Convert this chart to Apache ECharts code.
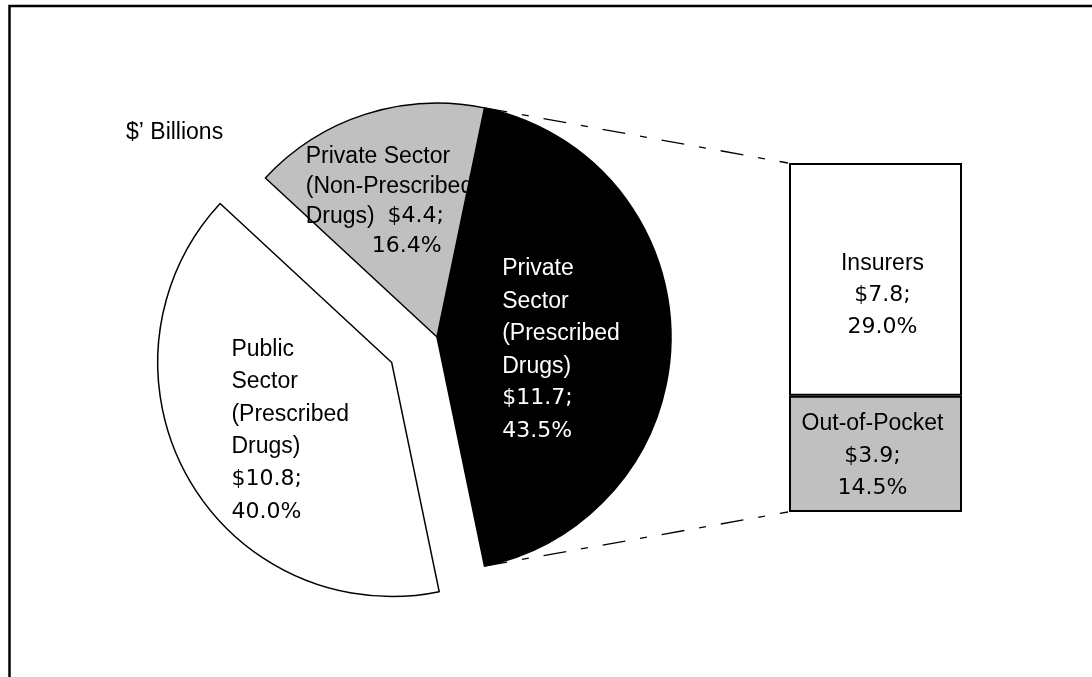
<!DOCTYPE html>
<html>
<head>
<meta charset="utf-8">
<script src="https://cdn.jsdelivr.net/npm/echarts@6/dist/echarts.min.js"></script>
<style>
  html, body { margin: 0; padding: 0; background: #fff; }
  #main { width: 1092px; height: 677px; }
</style>
</head>
<body>
<div id="main"></div>
<script>
// pie: the three sectors, clockwise starting with the split-off one
const pieNameLines = [
  ['Private', 'Sector', '(Prescribed', 'Drugs)'],
  ['Public', 'Sector', '(Prescribed', 'Drugs)'],
  ['Private Sector', '(Non-Prescribed', 'Drugs)']
];
const pieValues = [11.7, 10.8, 4.4];
const piePercents = ['43.5%', '40.0%', '16.4%'];
const pieColors = ['#000000', '#ffffff', '#c0c0c0'];

// bar: breakdown of the private prescribed slice (bottom to top)
const barNames = ['Out-of-Pocket', 'Insurers'];
const barValues = [3.9, 7.8];
const barPercents = ['14.5%', '29.0%'];
const barColors = ['#c0c0c0', '#ffffff'];

const unitLabel = '$\u2019 Billions';

let pieCenter = [437, 337];
let pieRadius = 234;
let gridLeft = 789, gridTop = 163, gridWidth = 173, gridHeight = 349;

let pieTotal = pieValues.reduce((a, b) => a + b, 0);
let startAngle = 180 * pieValues[0] / pieTotal;   // keep the split slice facing the bar
let barTotal = barValues.reduce((a, b) => a + b, 0);

let chart = echarts.init(document.getElementById('main'));

function pieLabel(params) {
  let i = params.dataIndex;
  let lines = pieNameLines[i];
  let val = '$' + pieValues[i].toFixed(1) + ';';
  if (i === 2) {
    return '{g|' + lines[0] + '}\n{g|' + lines[1] + '}\n{g|' + lines[2] + '}{gs|  }{gn|' + val + '}\n{gp|' + piePercents[i] + '}';
  }
  return lines.map(l => '{t|' + l + '}').join('\n') + '\n{n|' + val + '}\n{n|' + piePercents[i] + '}';
}

let labelShift = [[2, 6.5], [3, 9], [-5.5, -10.5]];

let option = {
  animation: false,
  title: {
    text: unitLabel,
    left: 121,
    top: 116,
    textStyle: { fontFamily: 'Liberation Sans', fontSize: 23, fontWeight: 'normal', color: '#000' }
  },
  grid: { left: gridLeft, top: gridTop, width: gridWidth, height: gridHeight },
  xAxis: { type: 'category', data: [''], show: false },
  yAxis: { type: 'value', min: 0, max: barTotal, show: false },
  series: [
    {
      type: 'pie',
      center: pieCenter,
      radius: pieRadius,
      startAngle: startAngle,
      clockwise: true,
      selectedMode: 'single',
      selectedOffset: 52,
      emphasis: { disabled: true },
      labelLine: { show: false },
      label: {
        show: true,
        position: 'inside',
        formatter: pieLabel,
        rich: {
          t: { fontFamily: 'Liberation Sans', fontSize: 23, lineHeight: 32.5, align: 'left' },
          n: { fontFamily: 'DejaVu Sans', fontSize: 22, lineHeight: 32.5, align: 'left' },
          g: { fontFamily: 'Liberation Sans', fontSize: 23, lineHeight: 30, align: 'left' },
          gs: { fontFamily: 'Liberation Sans', fontSize: 23, lineHeight: 30, align: 'left' },
          gn: { fontFamily: 'DejaVu Sans', fontSize: 22, lineHeight: 30, align: 'left' },
          gp: { fontFamily: 'DejaVu Sans', fontSize: 22, lineHeight: 30, align: 'left', padding: [0, 0, 0, 66] }
        }
      },
      labelLayout: function (params) {
        let s = labelShift[params.dataIndex];
        return { dx: s[0], dy: s[1] };
      },
      data: pieValues.map((v, i) => ({
        value: v,
        name: pieNameLines[i].join(' '),
        selected: i === 1,
        itemStyle: { color: pieColors[i], borderColor: '#000', borderWidth: 1.5 },
        select: { itemStyle: { color: pieColors[i], borderColor: '#000', borderWidth: 1.5 } },
        label: { color: i === 0 ? '#fff' : '#000' }
      }))
    },
    ...barValues.map((v, i) => ({
      type: 'bar',
      stack: 'split',
      barWidth: '100%',
      emphasis: { disabled: true },
      itemStyle: { color: barColors[i], borderColor: '#000', borderWidth: 2 },
      label: {
        show: true,
        position: 'inside',
        offset: i === 1 ? [7, 16] : [-3, 2],
        color: '#000',
        formatter: '{t|' + barNames[i] + '}\n{n|$' + v.toFixed(1) + ';}\n{n|' + barPercents[i] + '}',
        rich: {
          t: { fontFamily: 'Liberation Sans', fontSize: 23, lineHeight: 32 },
          n: { fontFamily: 'DejaVu Sans', fontSize: 22, lineHeight: 32 }
        }
      },
      data: [v]
    }))
  ]
};

chart.setOption(option);

// connector lines from the split slice edges to the bar corners
let a = startAngle * Math.PI / 180;
let pTop = [pieCenter[0] + pieRadius * Math.cos(a), pieCenter[1] - pieRadius * Math.sin(a)];
let pBot = [pieCenter[0] + pieRadius * Math.cos(a), pieCenter[1] + pieRadius * Math.sin(a)];
let yTop = chart.convertToPixel({ yAxisIndex: 0 }, barTotal);
let yBot = chart.convertToPixel({ yAxisIndex: 0 }, 0);
let dashStyle = { stroke: '#000', lineWidth: 1.3, lineDash: [23, 15, 7, 15], fill: null };

chart.setOption({
  graphic: [
    { type: 'line', shape: { x1: pTop[0], y1: pTop[1], x2: gridLeft - 1, y2: yTop }, style: dashStyle, silent: true },
    { type: 'line', shape: { x1: pBot[0], y1: pBot[1], x2: gridLeft - 1, y2: yBot }, style: dashStyle, silent: true },
    { type: 'rect', shape: { x: 9.5, y: 6, width: 1200, height: 800 }, style: { stroke: '#000', lineWidth: 2.5, fill: null }, silent: true }
  ]
});

window.addEventListener('resize', () => chart.resize());
</script>
</body>
</html>
